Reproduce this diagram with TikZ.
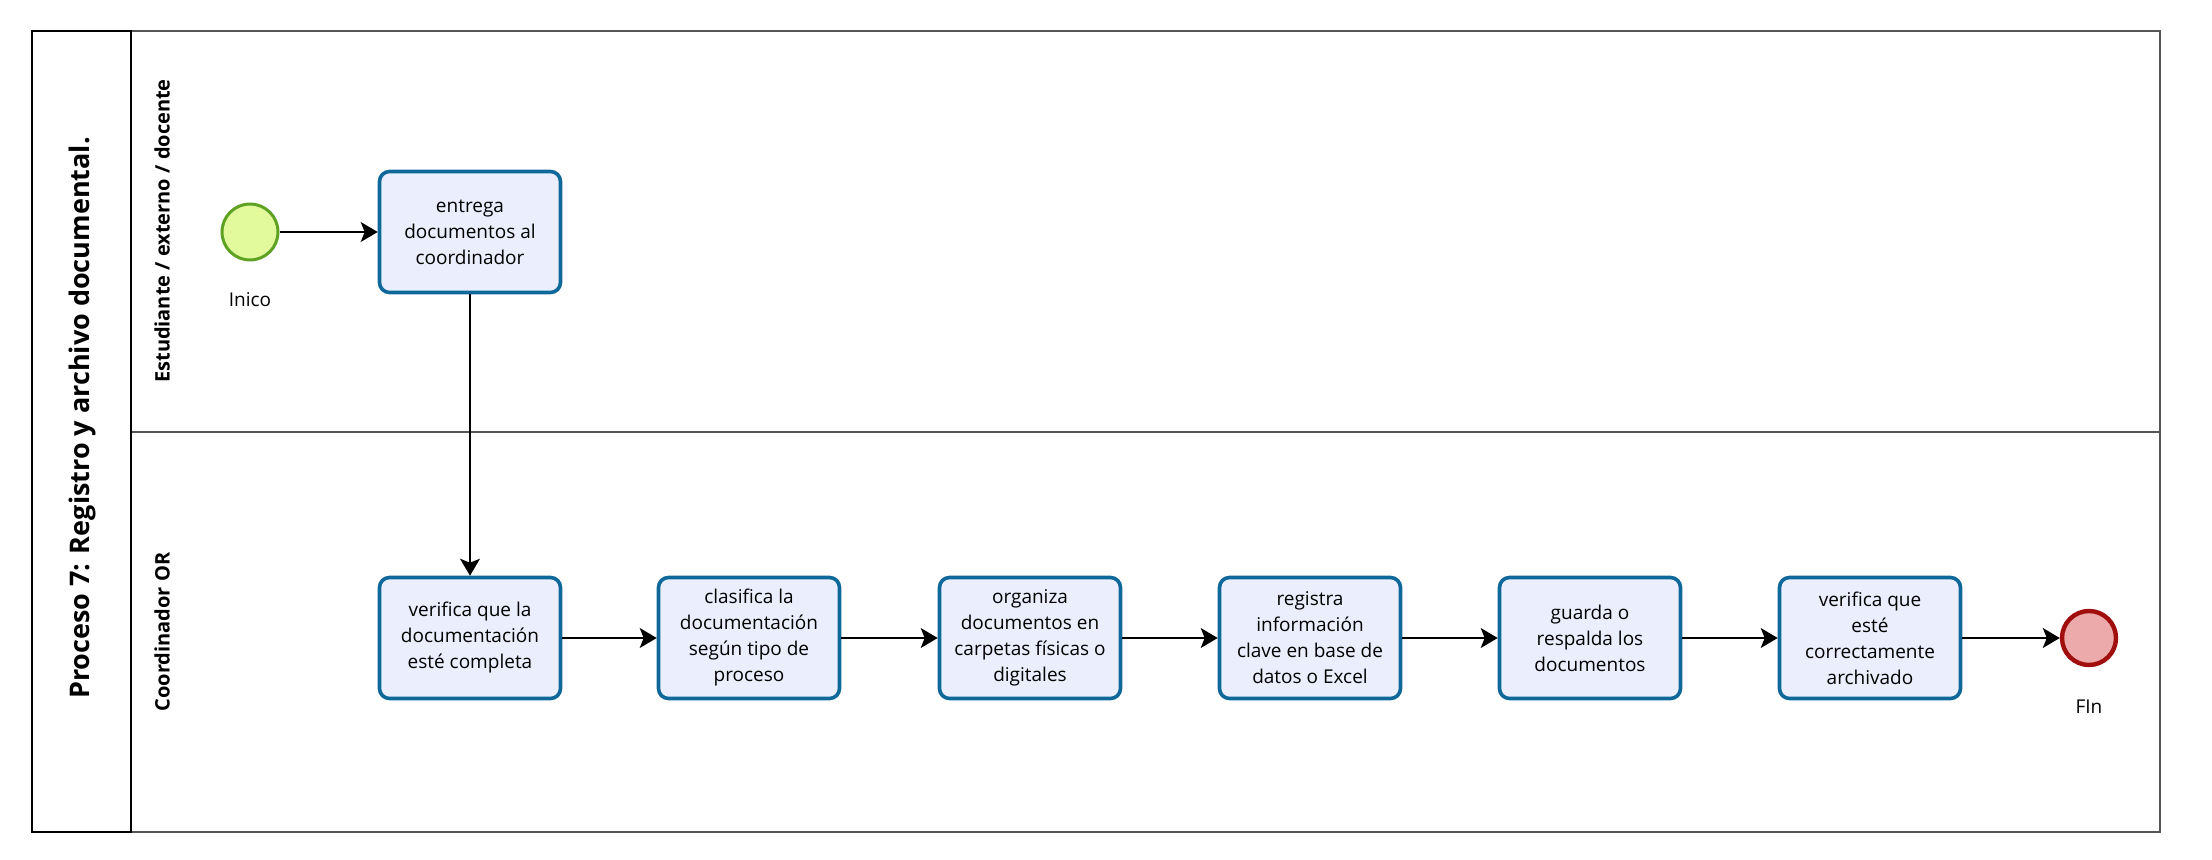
\documentclass[tikz,border=0pt]{standalone}
\usepackage{fontspec}
\setmainfont{Open Sans}
\usetikzlibrary{arrows.meta}
\definecolor{taskfill}{HTML}{EBEEFD}
\definecolor{taskline}{HTML}{0E6899}
\definecolor{startfill}{HTML}{E2FA9B}
\definecolor{startline}{HTML}{5FA123}
\definecolor{endfill}{HTML}{EDAAAA}
\definecolor{endline}{HTML}{A00E0E}
\definecolor{lanegray}{HTML}{555555}
\tikzset{
  task/.style={draw=taskline, fill=taskfill, line width=1.8pt, rounded corners=5pt,
    minimum width=90.5pt, minimum height=60.5pt, align=center, inner sep=2pt,
    font=\fontsize{9.5}{13}\selectfont},
  startevent/.style={circle, draw=startline, fill=startfill, line width=1.5pt, minimum size=28pt, inner sep=0pt},
  endevent/.style={circle, draw=endline, fill=endfill, line width=2.2pt, minimum size=27pt, inner sep=0pt},
  evlabel/.style={font=\fontsize{9.5}{13}\selectfont},
  flow/.style={line width=0.8pt, -{Stealth[length=8.5pt,width=10pt,inset=2pt]}},
  lanetitle/.style={rotate=90, font=\fontsize{10}{12}\bfseries},
  pooltitle/.style={rotate=90, font=\fontsize{13.5}{16}\bfseries}
}
\begin{document}
\begin{tikzpicture}[x=0.5pt, y=-0.5pt]
\useasboundingbox (0,0) rectangle (2212,860);
% lanes
\draw[lanegray, line width=1pt] (131,31) rectangle (2160,832);
\draw[lanegray, line width=1pt] (131,432) -- (2160,432);
% pool header
\draw[black, line width=1.2pt] (32,31) rectangle (131,832);
\node[pooltitle] (pool) at (82,418) {Proceso 7: Registro y archivo documental.};
\node[lanetitle] (lane1) at (162,231) {Estudiante / externo / docente};
\node[lanetitle] (lane2) at (162,632) {Coordinador OR};
% events
\node[startevent] (start) at (250,232) {};
\node[evlabel] (startlbl) at (250,300) {Inico};
\node[endevent] (end) at (2089,638) {};
\node[evlabel] (endlbl) at (2089,707) {FIn};
% tasks
\node[task] (t1) at (470,232) {entrega\\documentos al\\coordinador};
\node[task] (t2) at (470,638) {verifica que la\\documentación\\esté completa};
\node[task] (t3) at (749,638) {clasifica la\\documentación\\según tipo de\\proceso};
\node[task] (t4) at (1030,638) {organiza\\documentos en\\carpetas físicas o\\digitales};
\node[task] (t5) at (1310,638) {registra\\información\\clave en base de\\datos o Excel};
\node[task] (t6) at (1590,638) {guarda o\\respalda los\\documentos};
\node[task] (t7) at (1870,638) {verifica que\\esté\\correctamente\\archivado};
% sequence flows
\draw[flow] (start) -- (t1);
\draw[flow] (t1) -- (t2);
\draw[flow] (t2) -- (t3);
\draw[flow] (t3) -- (t4);
\draw[flow] (t4) -- (t5);
\draw[flow] (t5) -- (t6);
\draw[flow] (t6) -- (t7);
\draw[flow] (t7) -- (end);
\end{tikzpicture}
\end{document}
